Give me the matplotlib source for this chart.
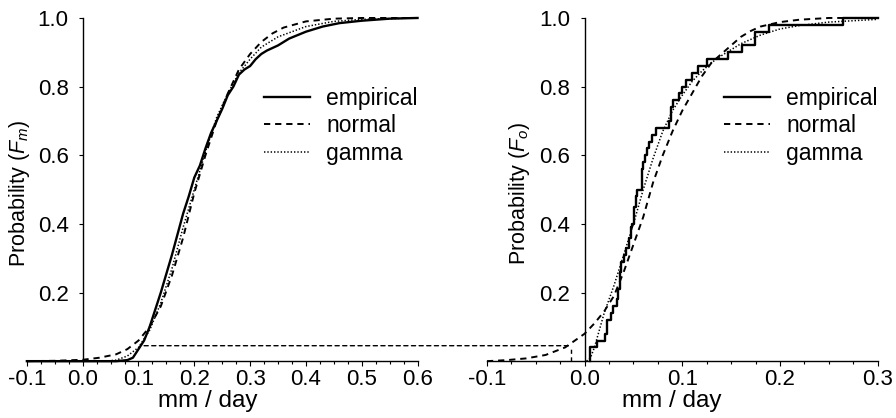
import matplotlib
matplotlib.use("Agg")
import matplotlib.pyplot as plt
from matplotlib.patches import ConnectionPatch
from matplotlib.ticker import MultipleLocator, FormatStrFormatter

plt.rcParams['font.family'] = ['Liberation Sans', 'DejaVu Sans']
plt.rcParams['mathtext.fontset'] = 'custom'
plt.rcParams['mathtext.rm'] = 'Liberation Sans'
plt.rcParams['mathtext.it'] = 'Liberation Sans:italic'
plt.rcParams['axes.unicode_minus'] = False
plt.rcParams['lines.scale_dashes'] = False

# --- left panel: modelled (F_m) ---
xm_emp = [-0.1, 0.06, 0.08, 0.09, 0.10, 0.11, 0.12, 0.13, 0.14, 0.15, 0.16, 0.17, 0.18,
          0.19, 0.20, 0.21, 0.22, 0.23, 0.24, 0.25, 0.26, 0.27, 0.28, 0.29, 0.30, 0.31,
          0.32, 0.33, 0.35, 0.37, 0.40, 0.43, 0.46, 0.50, 0.55, 0.60]
ym_emp = [0.0, 0.0, 0.003, 0.01, 0.035, 0.06, 0.10, 0.15, 0.20, 0.255, 0.31, 0.37, 0.43,
          0.48, 0.535, 0.57, 0.62, 0.665, 0.70, 0.735, 0.775, 0.80, 0.835, 0.85, 0.86, 0.88,
          0.895, 0.905, 0.92, 0.94, 0.96, 0.975, 0.985, 0.992, 0.998, 1.0]

xm_norm = [-0.1, -0.05, 0.0, 0.03, 0.06, 0.08, 0.10, 0.12, 0.14, 0.16, 0.18, 0.20, 0.22,
           0.24, 0.26, 0.28, 0.30, 0.32, 0.34, 0.36, 0.40, 0.45, 0.50, 0.60]
ym_norm = [0.0, 0.001, 0.004, 0.01, 0.02, 0.035, 0.06, 0.10, 0.16, 0.25, 0.36, 0.49, 0.60,
           0.70, 0.78, 0.85, 0.895, 0.93, 0.955, 0.972, 0.99, 0.998, 1.0, 1.0]

xm_gam = [0.04, 0.06, 0.08, 0.10, 0.12, 0.14, 0.16, 0.18, 0.20, 0.22, 0.24, 0.26, 0.28,
          0.30, 0.32, 0.35, 0.40, 0.45, 0.50, 0.60]
ym_gam = [0.0, 0.003, 0.015, 0.04, 0.09, 0.17, 0.27, 0.39, 0.50, 0.61, 0.71, 0.78, 0.84,
          0.88, 0.915, 0.945, 0.975, 0.99, 0.996, 1.0]

# --- right panel: observed (F_o) ---
xo_emp = [0.006, 0.006, 0.013, 0.021, 0.023, 0.027, 0.029, 0.033, 0.034, 0.036, 0.037,
          0.040, 0.042, 0.045, 0.047, 0.049, 0.051, 0.053, 0.054, 0.059, 0.060, 0.062,
          0.064, 0.066, 0.069, 0.0726, 0.0863, 0.088, 0.090, 0.097, 0.100, 0.104, 0.110,
          0.116, 0.1255, 0.147, 0.161, 0.174, 0.1886, 0.265, 0.30]
yo_emp = [0.0, 0.04, 0.06, 0.08, 0.12, 0.14, 0.16, 0.18, 0.21, 0.26, 0.29, 0.31, 0.33,
          0.36, 0.39, 0.40, 0.45, 0.48, 0.50, 0.56, 0.58, 0.60, 0.62, 0.64, 0.66, 0.68,
          0.70, 0.74, 0.76, 0.78, 0.80, 0.82, 0.84, 0.86, 0.88, 0.90, 0.92, 0.96, 0.98,
          1.0, 1.0]

xo_norm = [-0.1, -0.08, -0.06, -0.04, -0.02, 0.0, 0.01, 0.02, 0.03, 0.04, 0.05, 0.06, 0.07,
           0.08, 0.09, 0.10, 0.11, 0.12, 0.13, 0.14, 0.15, 0.16, 0.17, 0.18, 0.20, 0.22,
           0.25, 0.30]
yo_norm = [0.0, 0.003, 0.008, 0.018, 0.04, 0.08, 0.11, 0.145, 0.19, 0.26, 0.34, 0.42, 0.52,
           0.60, 0.67, 0.73, 0.78, 0.83, 0.87, 0.895, 0.92, 0.945, 0.962, 0.975, 0.988,
           0.995, 1.0, 1.0]

xo_gam = [0.002, 0.006, 0.01, 0.015, 0.02, 0.03, 0.04, 0.05, 0.06, 0.07, 0.08, 0.09, 0.10,
          0.11, 0.12, 0.13, 0.14, 0.16, 0.18, 0.20, 0.22, 0.25, 0.30]
yo_gam = [0.0, 0.01, 0.04, 0.09, 0.14, 0.22, 0.31, 0.40, 0.50, 0.59, 0.67, 0.73, 0.775,
          0.815, 0.845, 0.87, 0.89, 0.925, 0.95, 0.968, 0.978, 0.988, 0.996]

# quantile mapping guide line
q_prob = 0.045
q_xm = 0.11
q_xo = -0.014

FS_TICK = 16
FS_LEG = 16.5
FS_XLAB = 17.5
FS_YLAB = 15.5

fig = plt.figure(figsize=(8.96, 4.18), dpi=100)
ax1 = fig.add_axes([0.030, 0.136, 0.436, 0.821])
ax2 = fig.add_axes([0.5435, 0.136, 0.436, 0.821])

dash = (4.5, 3.5)
dot = (1.0, 1.4)

def draw(ax, xe, ye, xn, yn, xg, yg, step, xlim, ylab, lab_x, xlab_x):
    ds = 'steps-post' if step else 'default'
    ax.plot(xe, ye, color='black', lw=1.7, drawstyle=ds, label='empirical', clip_on=False)
    ax.plot(xn, yn, color='black', lw=1.4, dashes=dash, label='normal', clip_on=False)
    ax.plot(xg, yg, color='black', lw=1.1, dashes=dot, label='gamma', clip_on=False)
    ax.set_xlim(*xlim)
    ax.set_ylim(0, 1.0)
    for s in ['top', 'right']:
        ax.spines[s].set_visible(False)
    ax.spines['left'].set_position(('data', 0))
    ax.spines['left'].set_linewidth(1.0)
    ax.spines['bottom'].set_linewidth(1.0)
    ax.xaxis.set_major_locator(MultipleLocator(0.1))
    ax.xaxis.set_minor_locator(MultipleLocator(0.025))
    ax.xaxis.set_major_formatter(FormatStrFormatter('%.1f'))
    ax.set_yticks([0.2, 0.4, 0.6, 0.8, 1.0])
    ax.yaxis.set_major_formatter(FormatStrFormatter('%.1f'))
    ax.tick_params(axis='x', which='major', direction='out', length=3.5, width=0.8,
                   labelsize=FS_TICK, pad=2)
    ax.tick_params(axis='x', which='minor', direction='out', length=2.2, width=0.8)
    ax.tick_params(axis='y', direction='out', length=3.2, width=0.8, labelsize=FS_TICK, pad=7)
    ax.set_xlabel('mm / day', fontsize=FS_XLAB)
    ax.xaxis.set_label_coords(xlab_x, -0.083)
    ax.set_ylabel(ylab, fontsize=FS_YLAB)
    ax.yaxis.set_label_coords(lab_x, 0.49)
    ax.legend(loc='upper right', bbox_to_anchor=(1.0, 0.80), frameon=False,
              fontsize=FS_LEG, handlelength=2.0, handletextpad=0.7, labelspacing=0.2,
              borderpad=0, borderaxespad=0)

draw(ax1, xm_emp, ym_emp, xm_norm, ym_norm, xm_gam, ym_gam, False, (-0.1, 0.6),
     r'Probability ($F_m$)', 0.012, 0.463)
draw(ax2, xo_emp, yo_emp, xo_norm, yo_norm, xo_gam, yo_gam, True, (-0.1, 0.3),
     r'Probability ($F_o$)', 0.115, 0.472)

con = ConnectionPatch(xyA=(q_xm, q_prob), coordsA='data', axesA=ax1,
                      xyB=(q_xo, q_prob), coordsB='data', axesB=ax2,
                      color='black', lw=1.0, linestyle=(0, (3, 2.5)))
fig.add_artist(con)
ax2.plot([q_xo, q_xo], [0, q_prob], color='black', lw=1.0, dashes=(3, 2.5))

fig.savefig('out.png', dpi=100, facecolor='white')
